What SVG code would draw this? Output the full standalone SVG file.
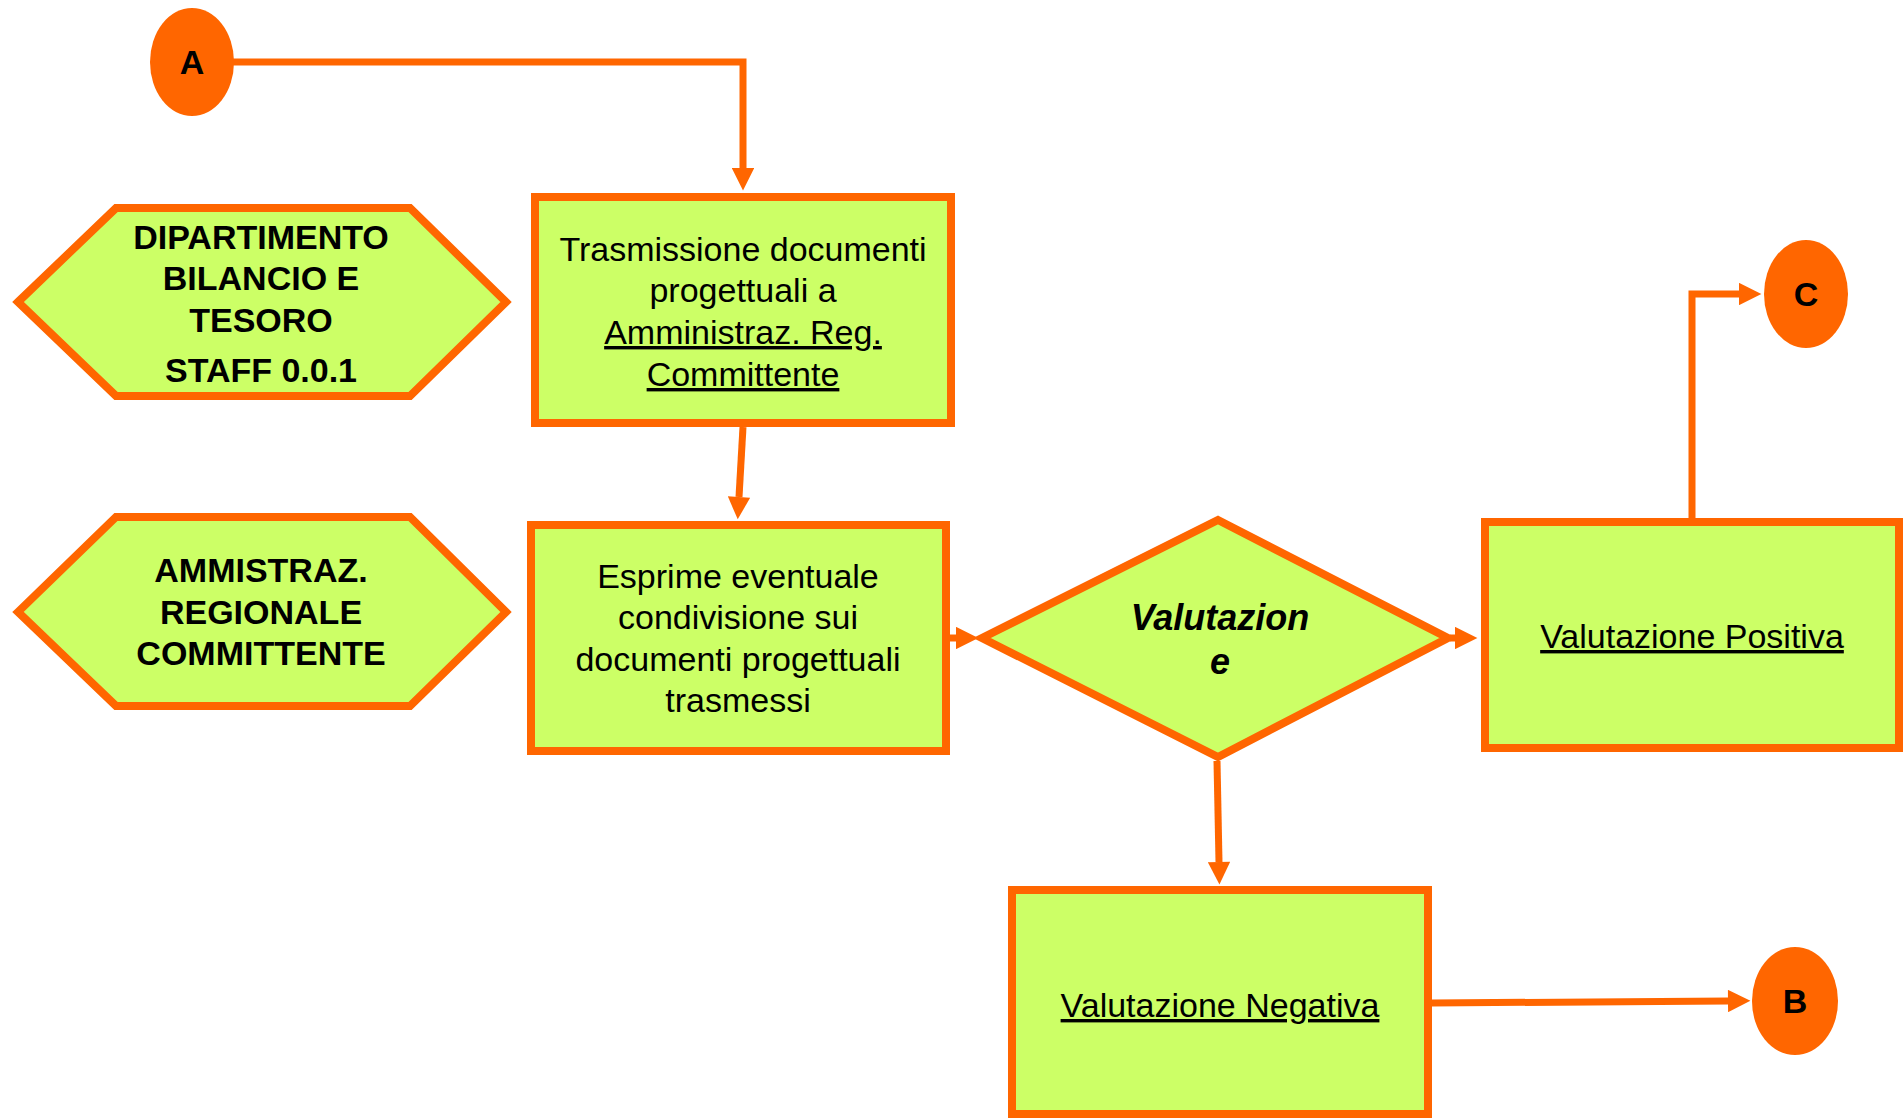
<svg xmlns="http://www.w3.org/2000/svg" width="1903" height="1118" viewBox="0 0 1903 1118">
<defs>
<style>
.shape{fill:#CCFF66;stroke:#FF6600;stroke-width:8;}
.conn{fill:none;stroke:#FF6600;stroke-width:7;}
.circ{fill:#FF6600;}
.t{font-family:"Liberation Sans",Arial,sans-serif;font-size:34px;fill:#000;text-anchor:middle;}
.b{font-weight:bold;}
.u{text-decoration:underline;}
</style>
<marker id="arr" viewBox="0 0 10 10" refX="0" refY="5" markerWidth="3.4" markerHeight="3.2" orient="auto" markerUnits="strokeWidth">
<path d="M0,0 L10,5 L0,10 z" fill="#FF6600"/>
</marker>
</defs>
<rect width="1903" height="1118" fill="#fff"/>
<g id="connectors">
<path class="conn" d="M230,62 L743,62 L743,168" marker-end="url(#arr)"/>
<path class="conn" d="M743,427 L739,497" marker-end="url(#arr)"/>
<path class="conn" d="M950,638 L956,638" marker-end="url(#arr)"/>
<path class="conn" d="M1450,638 L1455,638" marker-end="url(#arr)"/>
<path class="conn" d="M1692,518 L1692,294 L1739,294" marker-end="url(#arr)"/>
<path class="conn" d="M1217,761 L1219,862" marker-end="url(#arr)"/>
<path class="conn" d="M1432,1003 L1728,1001" marker-end="url(#arr)"/>
</g>
<g id="nodeA">
<ellipse class="circ" cx="192" cy="62" rx="42" ry="54"/>
<text class="t b" x="192" y="74">A</text>
</g>
<g id="nodeC">
<ellipse class="circ" cx="1806" cy="294" rx="42" ry="54"/>
<text class="t b" x="1806" y="306">C</text>
</g>
<g id="nodeB">
<ellipse class="circ" cx="1795" cy="1001" rx="43" ry="54"/>
<text class="t b" x="1795" y="1013">B</text>
</g>
<g id="hex1">
<polygon class="shape" points="18,302 116,208 410,208 506,302 410,396 116,396"/>
<text class="t b" x="261" y="249">DIPARTIMENTO</text>
<text class="t b" x="261" y="290">BILANCIO E</text>
<text class="t b" x="261" y="332">TESORO</text>
<text class="t b" x="261" y="382">STAFF 0.0.1</text>
</g>
<g id="hex2">
<polygon class="shape" points="18,612 116,517 410,517 506,612 410,706 116,706"/>
<text class="t b" x="261" y="582">AMMISTRAZ.</text>
<text class="t b" x="261" y="624">REGIONALE</text>
<text class="t b" x="261" y="665">COMMITTENTE</text>
</g>
<g id="box1">
<rect class="shape" x="535" y="197" width="416" height="226"/>
<text class="t" x="743" y="261">Trasmissione documenti</text>
<text class="t" x="743" y="302">progettuali a</text>
<text class="t u" x="743" y="344">Amministraz. Reg.</text>
<text class="t u" x="743" y="386">Committente</text>
</g>
<g id="box2">
<rect class="shape" x="531" y="525" width="415" height="226"/>
<text class="t" x="738" y="588">Esprime eventuale</text>
<text class="t" x="738" y="629">condivisione sui</text>
<text class="t" x="738" y="671">documenti progettuali</text>
<text class="t" x="738" y="712">trasmessi</text>
</g>
<g id="decision">
<polygon class="shape" points="1218,520 1448,638 1218,757 982,638"/>
<text class="t b" style="font-style:italic;font-size:36px" x="1220" y="630">Valutazion</text>
<text class="t b" style="font-style:italic;font-size:36px" x="1220" y="674">e</text>
</g>
<g id="boxPos">
<rect class="shape" x="1485" y="522" width="414" height="226"/>
<text class="t u" x="1692" y="648">Valutazione Positiva</text>
</g>
<g id="boxNeg">
<rect class="shape" x="1012" y="890" width="416" height="224"/>
<text class="t u" x="1220" y="1017">Valutazione Negativa</text>
</g>
</svg>
